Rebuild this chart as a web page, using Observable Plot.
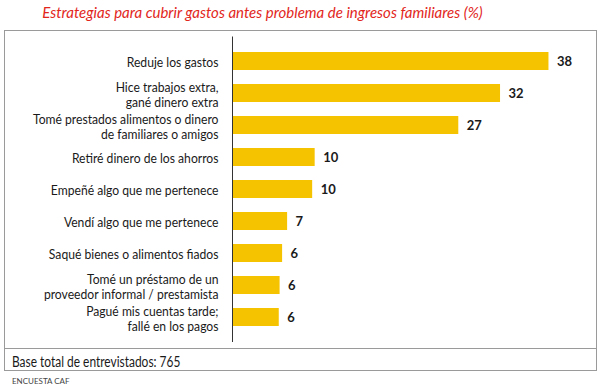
<!DOCTYPE html>
<html>
<head>
<meta charset="utf-8">
<script src="https://cdn.jsdelivr.net/npm/d3@7"></script>
<script src="https://cdn.jsdelivr.net/npm/@observablehq/plot@0.6"></script>
<style>
  html, body { margin: 0; padding: 0; background: #fff; }
  #wrap { position: relative; width: 600px; height: 390px; font-family: Lato, "Open Sans", sans-serif; }
  #title { position: absolute; left: 0; top: 3px; width: 525px; text-align: center; font-style: italic; font-size: 15px; color: #e2261c; }
  #box { position: absolute; left: 4px; top: 30px; width: 591px; height: 339px; border: 1.5px solid #9a9a9a; box-sizing: content-box; }
  #divider { position: absolute; left: 4px; top: 348px; width: 593px; height: 0; border-top: 1.5px solid #9a9a9a; }
  #chart { position: absolute; left: 0; top: 30px; }
  #base { position: absolute; left: 12px; top: 352px; font-size: 15.5px; color: #1a1a1a; transform: scaleX(0.77); transform-origin: left top; white-space: nowrap; }
  #source { position: absolute; left: 12px; top: 376px; font-size: 8px; color: #444; }
</style>
</head>
<body>
<div id="wrap">
  <div id="title">Estrategias para cubrir gastos antes problema de ingresos familiares (%)</div>
  <div id="box"></div>
  <div id="divider"></div>
  <div id="chart"></div>
  <div id="base">Base total de entrevistados: 765</div>
  <div id="source">ENCUESTA CAF</div>
</div>
<script>
const categories = [
  "Reduje los gastos",
  "Hice trabajos extra,\ngané dinero extra",
  "Tomé prestados alimentos o dinero\nde familiares o amigos",
  "Retiré dinero de los ahorros",
  "Empeñé algo que me pertenece",
  "Vendí algo que me pertenece",
  "Saqué bienes o alimentos fiados",
  "Tomé un préstamo de un\nproveedor informal / prestamista",
  "Pagué mis cuentas tarde;\nfallé en los pagos"
];
const values = [37.9, 32.1, 27.1, 9.9, 9.6, 6.6, 6.0, 5.7, 5.6];
const valueLabels = ["38", "32", "27", "10", "10", "7", "6", "6", "6"];

const data = categories.map((c, i) => ({cat: c, value: values[i], label: valueLabels[i]}));

const chart = Plot.plot({
  width: 600,
  height: 320,
  marginTop: 6.5,
  marginBottom: 8,
  marginLeft: 232,
  marginRight: 0,
  style: {fontFamily: "Lato, 'Open Sans', sans-serif", background: "transparent"},
  x: {domain: [0, 40], range: [232, 232 + 40 * 8.35], axis: null},
  y: {domain: categories, padding: 0.43, axis: null},
  marks: [
    Plot.barX(data, {y: "cat", x: "value", fill: "#f6c300"}),
    Plot.ruleX([0], {stroke: "#333", strokeWidth: 1}),
    Plot.text(data, {y: "cat", frameAnchor: "left", dx: -14, dy: 1, textAnchor: "end", text: "cat", fontSize: 13.5, lineHeight: 1.1, fill: "#1a1a1a"}),
    Plot.text(data, {y: "cat", x: "value", dx: 8, textAnchor: "start", text: "label", fontSize: 13, fontWeight: "bold", fill: "#1a1a1a"})
  ]
});

// condense the category labels horizontally (the reference typeface is narrow)
const textGroups = chart.querySelectorAll('g[aria-label="text"]');
if (textGroups.length) {
  textGroups[0].querySelectorAll(":scope > text").forEach(t => {
    const tr = t.getAttribute("transform") || "";
    t.setAttribute("transform", `${tr} scale(0.9,1)`);
  });
}
document.getElementById("chart").appendChild(chart);
</script>
</body>
</html>
